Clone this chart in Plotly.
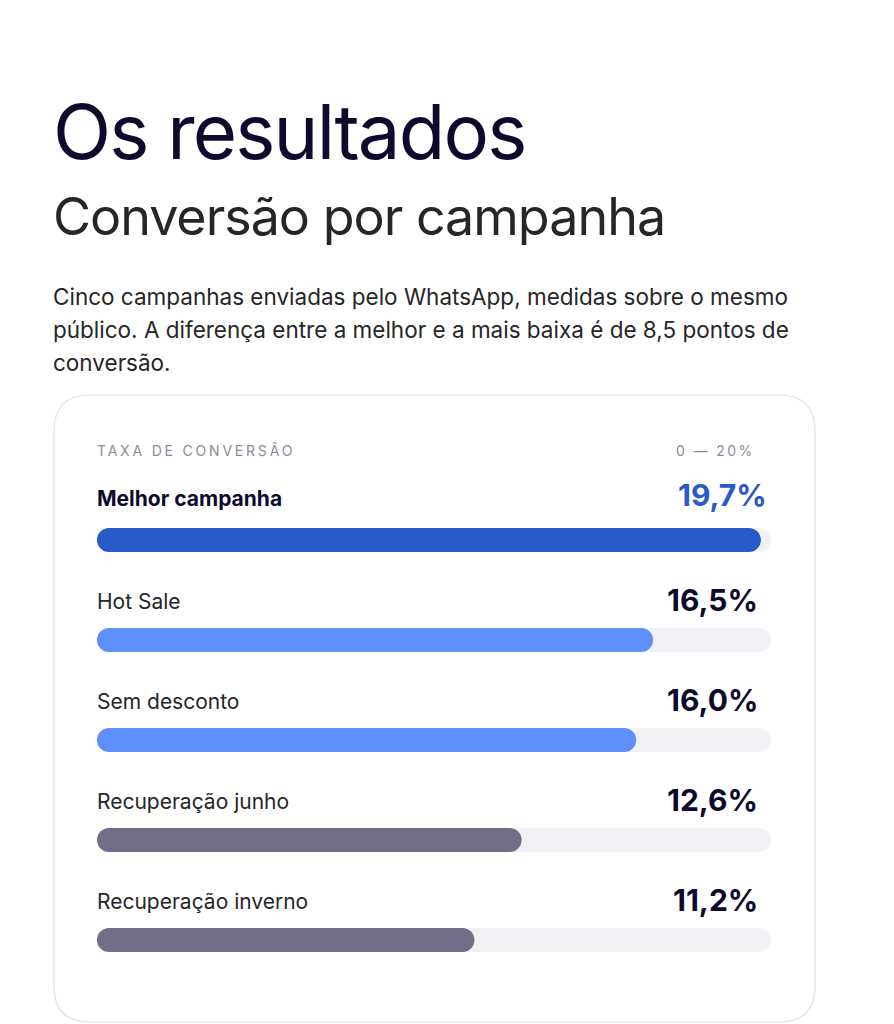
import plotly.graph_objects as go

# ---- data ----
campaigns = ["Melhor campanha", "Hot Sale", "Sem desconto", "Recuperação junho", "Recuperação inverno"]
rates = [19.7, 16.5, 16.0, 12.6, 11.2]
value_labels = ["19,7%", "16,5%", "16,0%", "12,6%", "11,2%"]
scale_max = 20
bar_colors = ["#2A59C9", "#5F8FFB", "#5F8FFB", "#736E87", "#736E87"]

title = "Os resultados"
subtitle = "Conversão por campanha"
paragraph = ["Cinco campanhas enviadas pelo WhatsApp, medidas sobre o mesmo",
             "público. A diferença entre a melhor e a mais baixa é de 8,5 pontos de",
             "conversão."]
axis_label = "TAXA DE CONVERSÃO"
range_label = "0 — 20%"

W, H = 894, 1024
OFF = 8  # page body margin
def px(x): return (x - OFF) / W
def py(y): return 1 - (y - OFF) / H

FONT = "Inter, 'Noto Sans', sans-serif"
NAVY = "#0D0A2E"
TXT = "#262626"
TRACK = "#F0F1F5"

fig = go.Figure()
# tracks (explicit base -> rounded on both ends)
fig.add_trace(go.Bar(
    x=[scale_max] * len(campaigns), base=[0] * len(campaigns), y=campaigns, orientation="h",
    marker=dict(color=TRACK, cornerradius=12, line_width=0),
    width=0.24, showlegend=False, hoverinfo="skip"))
fig.add_trace(go.Bar(
    x=rates, base=[0] * len(campaigns), y=campaigns, orientation="h",
    marker=dict(color=bar_colors, cornerradius=12, line_width=0),
    width=0.24, showlegend=False,
    hovertemplate="%{y}: %{x}%<extra></extra>"))

ann = []
ann.append(dict(text=f'<span style="letter-spacing:-1.8px">{title}</span>',
                x=px(51), y=py(131), xref="paper", yref="paper",
                xanchor="left", yanchor="middle", showarrow=False,
                font=dict(family=FONT, size=76, color=NAVY)))
ann.append(dict(text=f'<span style="letter-spacing:-1px">{subtitle}</span>',
                x=px(51), y=py(216), xref="paper", yref="paper",
                xanchor="left", yanchor="middle", showarrow=False,
                font=dict(family=FONT, size=52, color=TXT)))
for i, line in enumerate(paragraph):
    ann.append(dict(text=line, x=px(51), y=py(296 + 33 * i), xref="paper", yref="paper",
                    xanchor="left", yanchor="middle", showarrow=False,
                    font=dict(family=FONT, size=22.5, color=TXT)))
ann.append(dict(text='<span style="letter-spacing:2.8px">' + axis_label + '</span>',
                x=px(95), y=py(450), xref="paper", yref="paper",
                xanchor="left", yanchor="middle", showarrow=False,
                font=dict(family=FONT, size=14, color="#8C8B99")))
ann.append(dict(text='<span style="letter-spacing:2.4px">' + range_label + '</span>',
                x=px(757), y=py(450), xref="paper", yref="paper",
                xanchor="right", yanchor="middle", showarrow=False,
                font=dict(family=FONT, size=14, color="#8C8B99")))
for i, (c, v) in enumerate(zip(campaigns, value_labels)):
    best = i == 0
    ann.append(dict(text=c, x=px(95), y=c, xref="paper", yref="y",
                    xanchor="left", yanchor="middle", yshift=42 if best else 39,
                    showarrow=False,
                    font=dict(family=FONT, size=21, color=NAVY if best else TXT,
                              weight=700 if best else 400)))
    ann.append(dict(text=v, x=scale_max, y=c, xref="x", yref="y",
                    xanchor="right", yanchor="middle", yshift=45 if best else 40,
                    xshift=-2 if best else -11, showarrow=False,
                    font=dict(family=FONT, size=30, color="#2A59C9" if best else NAVY,
                              weight=700)))

# rounded card
x0, y0, x1, y1, r = 54, 395, 815, 1022, 36
path = (f"M {px(x0+r)},{py(y0)} L {px(x1-r)},{py(y0)} Q {px(x1)},{py(y0)} {px(x1)},{py(y0+r)} "
        f"L {px(x1)},{py(y1-r)} Q {px(x1)},{py(y1)} {px(x1-r)},{py(y1)} "
        f"L {px(x0+r)},{py(y1)} Q {px(x0)},{py(y1)} {px(x0)},{py(y1-r)} "
        f"L {px(x0)},{py(y0+r)} Q {px(x0)},{py(y0)} {px(x0+r)},{py(y0)} Z")

fig.update_layout(
    width=W, height=H, margin=dict(l=0, r=0, t=0, b=0),
    paper_bgcolor="white", plot_bgcolor="rgba(0,0,0,0)",
    barmode="overlay", annotations=ann,
    shapes=[dict(type="path", path=path, xref="paper", yref="paper",
                 line=dict(color="#E2E3E8", width=1.2), fillcolor="white", layer="below")],
    xaxis=dict(domain=[px(97), px(771)], range=[0, scale_max], visible=False, fixedrange=True),
    yaxis=dict(domain=[py(990), py(490)], range=[4.5, -0.5], visible=False,
               categoryorder="array", categoryarray=campaigns, fixedrange=True),
    font=dict(family=FONT),
)

fig.write_html("out.html", config={"displayModeBar": False})
